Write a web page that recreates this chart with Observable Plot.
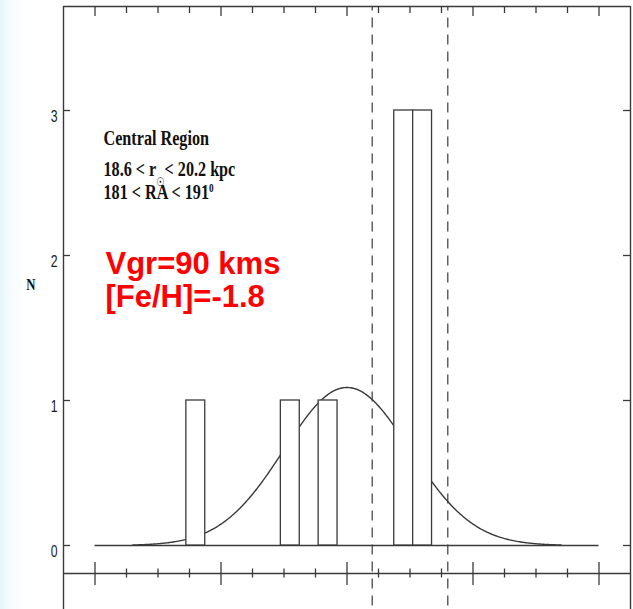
<!DOCTYPE html>
<html>
<head>
<meta charset="utf-8">
<script src="https://cdn.jsdelivr.net/npm/d3@7"></script>
<script src="https://cdn.jsdelivr.net/npm/@observablehq/plot@0.6"></script>
<style>
  html, body { margin: 0; padding: 0; }
  body {
    width: 633px; height: 609px; overflow: hidden;
    background: linear-gradient(to right, #e8f5f9 0px, #f5fbfd 10px, #ffffff 26px);
  }
  #chart svg { display: block; }
</style>
</head>
<body>
<div id="chart"></div>
<script>
// Velocity histogram: left edges of the occupied 15 km/s bins and the star count in each
const binStart = [-127.5, -52.5, -22.5, 37.5, 52.5];
const binWidth = 15;
const counts = [1, 1, 1, 3, 3];

// Gaussian model drawn over the histogram (mean, dispersion, peak height)
const fitMean = 0;
const fitSigma = 50;
const fitPeak = 1.09;
const fitRange = [-170, 170];

// Dashed reference velocities
const markers = [20, 80];

// Axis ticks
const yTicks = [0, 1, 2, 3];
const xMajor = [-200, -100, 0, 100, 200];
const xMinor = [-175, -150, -125, -75, -50, -25, 25, 50, 75, 125, 150, 175];

// Annotations
const infoTitle = "Central Region";
const infoDistance = "18.6 < r\u2609< 20.2 kpc";
const infoRA = "181 < RA < 191\u2070";
const fitLines = ["Vgr=90 kms", "[Fe/H]=-1.8"];
const yLabel = "N";

// ---- derived tables ----
const bars = binStart.map((x0, i) => ({x1: x0, x2: x0 + binWidth, n: counts[i]}));
const gauss = v => fitPeak * Math.exp(-((v - fitMean) ** 2) / (2 * fitSigma ** 2));
const curve = d3.range(fitRange[0], fitRange[1] + 0.5, 1).map(v => ({v, n: gauss(v)}));

// frame extent in data units
const xLo = -225, xHi = 225;
const yTop = 3.7172, yAxis = -0.1931, yLow = -0.7;

const ink = "#3a3a3a";
const serif = "'Liberation Serif', 'Times New Roman', serif";
const sans = "'Liberation Sans', Arial, sans-serif";
const line = {stroke: ink, strokeWidth: 1.3};

const plot = Plot.plot({
  width: 633,
  height: 609,
  marginLeft: 63,
  marginRight: 3,
  marginTop: 6,
  marginBottom: 36,
  style: {background: "transparent", overflow: "hidden"},
  x: {domain: [xLo, xHi], axis: null},
  y: {domain: [yAxis, yTop], axis: null},
  marks: [
    // zero line of the histogram
    Plot.ruleY([0], {x1: -200, x2: 200, ...line}),
    // Gaussian model
    Plot.line(curve, {x: "v", y: "n", stroke: ink, strokeWidth: 1.4}),
    // histogram bars (white, so they hide the curve behind them)
    Plot.rectY(bars, {x1: "x1", x2: "x2", y1: 0, y2: "n", fill: "white", inset: 0, ...line}),
    // dashed reference velocities
    Plot.ruleX(markers, {y1: yLow, y2: yTop, stroke: ink, strokeWidth: 1.2, strokeDasharray: "10,7", strokeDashoffset: 10}),
    // frame
    Plot.ruleX([xLo, xHi], {y1: yLow, y2: yTop, stroke: ink, strokeWidth: 1.4}),
    Plot.ruleY([yTop, yAxis], {x1: xLo, x2: xHi, stroke: ink, strokeWidth: 1.4}),
    // top ticks
    Plot.ruleX(xMajor, {y1: yTop, y2: yTop, insetBottom: -10, ...line}),
    Plot.ruleX(xMinor, {y1: yTop, y2: yTop, insetBottom: -7, ...line}),
    // lower axis ticks, crossing the line
    Plot.ruleX(xMajor, {y1: yAxis, y2: yAxis, insetTop: -11, insetBottom: -12, ...line}),
    Plot.ruleX(xMinor, {y1: yAxis, y2: yAxis, insetTop: -4.5, insetBottom: -4.5, ...line}),
    // y ticks on both sides
    Plot.ruleY(yTicks, {x1: xLo, x2: xLo, insetRight: -7, ...line}),
    Plot.ruleY(yTicks, {x1: xHi, x2: xHi, insetLeft: -7, ...line}),
    Plot.text(yTicks, {
      x: xLo, y: d => d, text: d => String(d), textAnchor: "end", lineAnchor: "top",
      dx: -6, dy: -1, fontFamily: sans, fontSize: 17, fill: "#1a1a1a"
    }),
    Plot.text([yLabel], {
      x: xLo, y: 1.8, text: d => d, dx: -28, fontFamily: serif, fontWeight: "bold", fontSize: 16, fill: "#111",
      textAnchor: "end"
    }),
    // selection annotation
    Plot.text([infoTitle], {
      x: -193.25, y: 2.7586, text: d => d, textAnchor: "start", lineAnchor: "bottom",
      fontFamily: serif, fontWeight: "bold", fontSize: 21, fill: "#111"
    }),
    Plot.text([infoDistance], {
      x: -193.25, y: 2.5448, text: d => d, textAnchor: "start", lineAnchor: "bottom",
      fontFamily: serif, fontWeight: "bold", fontSize: 21, fill: "#111"
    }),
    Plot.text([infoRA], {
      x: -193.25, y: 2.3862, text: d => d, textAnchor: "start", lineAnchor: "bottom",
      fontFamily: serif, fontWeight: "bold", fontSize: 21, fill: "#111"
    }),
    // fit parameters
    Plot.text([fitLines.join("\n")], {
      x: -191.67, y: 2.037, text: d => d, textAnchor: "start", lineAnchor: "top", lineHeight: 1.065,
      fontFamily: sans, fontWeight: "bold", fontSize: 31, fill: "#ff0000"
    })
  ]
});

// Narrow the serif annotation and tick labels, and set the sun subscript / degree superscript
const narrow = new Map([
  [infoTitle, 0.77], [infoDistance, 0.77], [infoRA, 0.77], [yLabel, 0.8],
  ...yTicks.map(t => [String(t), 0.72])
]);
d3.select(plot).selectAll("text").each(function () {
  const s = this.textContent;
  if (!narrow.has(s)) return;
  const t = d3.select(this);
  t.attr("transform", (t.attr("transform") || "") + ` scale(${narrow.get(s)},1)`);
  if (s === infoDistance) {
    const [a, b] = s.split("\u2609");
    t.text(null);
    t.append("tspan").text(a);
    t.append("tspan").attr("dy", 9).attr("font-size", 12).attr("font-family", "'DejaVu Sans', sans-serif").attr("font-weight", "normal").text("\u2609");
    t.append("tspan").attr("dy", -9).text(b);
  } else if (s === infoRA) {
    const a = s.replace("\u2070", "");
    t.text(null);
    t.append("tspan").text(a);
    t.append("tspan").attr("dy", -8).attr("font-size", 12).text("0");
  }
});

document.getElementById("chart").appendChild(plot);
</script>
</body>
</html>
